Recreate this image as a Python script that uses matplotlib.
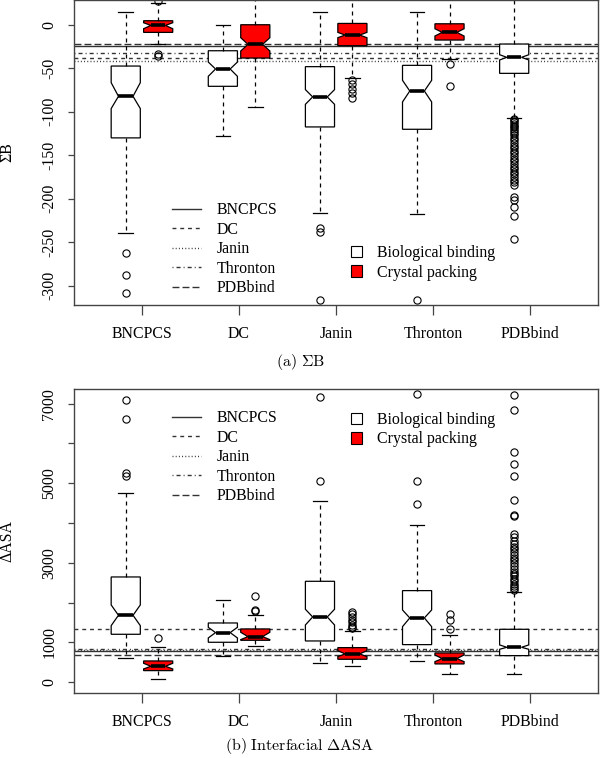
import matplotlib
matplotlib.use("Agg")
import matplotlib.pyplot as plt
from matplotlib.patches import Patch
from matplotlib.lines import Line2D

plt.rcParams['font.family'] = ['Liberation Serif', 'DejaVu Serif']
plt.rcParams['font.size'] = 11.4
plt.rcParams['mathtext.fontset'] = 'cm'

# groupes et lignes de référence
groups = ["BNCPCS", "DC", "Janin", "Thronton", "PDBbind"]

# ---- Panneau (a) : somme des B ----
sb_bio_q1 = [-130.1, -70.8, -117.5, -120.2, -55.9]
sb_bio_med = [-82.3, -50.9, -83.0, -76.2, -37.5]
sb_bio_q3 = [-47.5, -29.9, -48.2, -46.7, -22.2]
sb_bio_lo = [-240.0, -128.2, -217.0, -217.4, -107.5]
sb_bio_hi = [14.9, 0.0, 14.9, 14.9, 45.0]
sb_bio_cilo = [-96.4, -59.3, -91.5, -88.8, -40.5]
sb_bio_cihi = [-66.6, -42.9, -74.6, -63.9, -34.5]
sb_bio_out = [
    [-262.2, -287.8, -308.8],
    [],
    [-233.4, -238.8, -316.1],
    [-316.1],
    [-108, -110, -112, -114, -116, -118, -120, -122, -124, -127, -130,
     -133, -136, -139, -142, -145, -148, -151, -154, -157, -160, -163,
     -166, -169, -172, -175, -178, -181, -184, -198, -201, -209, -220, -246],
]
sb_cry_q1 = [-8.8, -38.3, -24.1, -17.6]
sb_cry_med = [-0.8, -22.6, -11.9, -8.8]
sb_cry_q3 = [4.6, 0.0, 1.5, 1.1]
sb_cry_lo = [-21.8, -94.5, -61.6, -39.0]
sb_cry_hi = [24.9, 45.0, 45.0, 45.0]
sb_cry_cilo = [-4.6, -30.2, -14.9, -13.0]
sb_cry_cihi = [2.3, -14.9, -8.8, -4.6]
sb_cry_out = [[26.8, -33.3, -36.0], [], [-63.9, -68.5, -73.5, -78.8, -83.8], [-45.5, -70.8]]
sb_ref = [-24.9, -37.9, -42.1, -32.1, -21.8]

# ---- Panneau (b) : delta ASA ----
asa_bio_q1 = [1206, 1005, 1038, 946, 670]
asa_bio_med = [1683, 1248, 1641, 1616, 879]
asa_bio_q3 = [2646, 1490, 2537, 2303, 1331]
asa_bio_lo = [611, 653, 477, 544, 218]
asa_bio_hi = [4747, 2077, 4563, 3944, 2269]
asa_bio_cilo = [1423, 1114, 1440, 1398, 829]
asa_bio_cihi = [1943, 1381, 1834, 1817, 938]
asa_bio_out = [
    [7084, 6623, 5267, 5191],
    [],
    [7176, 5066],
    [7240, 5066, 4488],
    [7226, 6841, 5794, 5484, 5175, 4588, 4212, 4178,
     3720, 3640, 3560, 3480, 3410, 3340, 3270, 3200, 3130, 3060, 2990,
     2920, 2850, 2780, 2720, 2660, 2600, 2540, 2480, 2430, 2380, 2330],
]
asa_cry_q1 = [293, 1055, 578, 461]
asa_cry_med = [402, 1147, 712, 594]
asa_cry_q3 = [536, 1340, 871, 737]
asa_cry_lo = [84, 921, 410, 218]
asa_cry_hi = [896, 1683, 1281, 1181]
asa_cry_cilo = [335, 1072, 645, 519]
asa_cry_cihi = [477, 1256, 795, 687]
asa_cry_out = [[1122], [2177, 1817, 1783],
               [1775, 1708, 1641, 1574, 1507, 1440, 1398, 1356],
               [1716, 1566, 1331]]
asa_ref = [787, 1348, 820, 846, 678]

ref_styles = ['-', (0, (2.8, 2.8)), (0, (0.7, 1.6)), (0, (0.7, 2.2, 2.9, 2.2)), (0, (5, 2.2))]
line_col = '#333333'


def make_stats(q1, med, q3, lo, hi, cilo, cihi, out):
    stats = []
    for i in range(len(q1)):
        stats.append(dict(q1=q1[i], med=med[i], q3=q3[i], whislo=lo[i], whishi=hi[i],
                          cilo=cilo[i], cihi=cihi[i], fliers=out[i]))
    return stats


def draw_boxes(ax, stats, positions, color):
    ax.bxp(stats, positions=positions, widths=0.3, shownotches=True, patch_artist=True,
           boxprops=dict(facecolor=color, edgecolor='black', linewidth=0.9),
           whiskerprops=dict(color='black', linewidth=0.9, linestyle=(0, (3.2, 3.2))),
           capprops=dict(color='black', linewidth=0.9),
           medianprops=dict(color='black', linewidth=2.6, solid_capstyle='butt'),
           flierprops=dict(marker='o', markerfacecolor='none', markeredgecolor='black',
                           markersize=5.2, markeredgewidth=0.8))


def panel(ax, bio, cry, ref, ylim, yticks, ylabels, ylab, leg_y):
    pos = range(1, len(groups) + 1)
    draw_boxes(ax, bio, [p - 0.167 for p in pos], 'white')
    draw_boxes(ax, cry, [p + 0.167 for p in range(1, len(cry) + 1)], 'red')
    lines = []
    for g, v, ls in zip(groups, ref, ref_styles):
        ax.axhline(v, color=line_col, linestyle=ls, linewidth=1.0, zorder=1)
        lines.append(Line2D([], [], color=line_col, linestyle=ls, linewidth=1.0, label=g))
    ax.set_xlim(0.3, 5.7)
    ax.set_ylim(*ylim)
    ax.set_xticks(list(pos))
    ax.set_xticklabels(groups)
    ax.set_yticks(yticks)
    ax.set_yticklabels(ylabels, rotation=90, va='center')
    ax.tick_params(axis='x', length=7, width=0.9, pad=8, color='#444444')
    ax.tick_params(axis='y', length=4, width=0.9, pad=8, color='#444444')
    for s in ax.spines.values():
        s.set_color('#444444')
        s.set_linewidth(1.0)
    ax.set_ylabel(ylab)
    ax.yaxis.set_label_coords(-0.112, 0.5)

    leg1 = ax.legend(handles=lines, loc='upper left', bbox_to_anchor=(0.187, leg_y[0]),
                     frameon=False, borderpad=0, borderaxespad=0, handlelength=1.8,
                     handletextpad=1.0, labelspacing=0.22)
    ax.add_artist(leg1)
    fills = [Patch(facecolor='white', edgecolor='black', linewidth=0.8, label='Biological binding'),
             Patch(facecolor='red', edgecolor='black', linewidth=0.8, label='Crystal packing')]
    ax.legend(handles=fills, loc='upper left', bbox_to_anchor=(0.528, leg_y[1]),
              frameon=False, borderpad=0, borderaxespad=0, handlelength=0.72,
              handleheight=0.75, handletextpad=0.9, labelspacing=0.22)


fig = plt.figure(figsize=(6, 7.58), dpi=100)
ax1 = fig.add_axes([0.1233, 0.598, 0.874, 0.4015])
ax2 = fig.add_axes([0.1233, 0.0854, 0.874, 0.4014])

panel(ax1,
      make_stats(sb_bio_q1, sb_bio_med, sb_bio_q3, sb_bio_lo, sb_bio_hi, sb_bio_cilo, sb_bio_cihi, sb_bio_out),
      make_stats(sb_cry_q1, sb_cry_med, sb_cry_q3, sb_cry_lo, sb_cry_hi, sb_cry_cilo, sb_cry_cihi, sb_cry_out),
      sb_ref, (-321.9, 28.0), [-300, -250, -200, -150, -100, -50, 0],
      ['-300', '-250', '-200', '-150', '-100', '-50', '0'], 'ΣB', (0.337, 0.196))

panel(ax2,
      make_stats(asa_bio_q1, asa_bio_med, asa_bio_q3, asa_bio_lo, asa_bio_hi, asa_bio_cilo, asa_bio_cihi, asa_bio_out),
      make_stats(asa_cry_q1, asa_cry_med, asa_cry_q3, asa_cry_lo, asa_cry_hi, asa_cry_cilo, asa_cry_cihi, asa_cry_out),
      asa_ref, (-276, 7368), [0, 1000, 2000, 3000, 4000, 5000, 6000, 7000],
      ['0', '1000', '', '3000', '', '5000', '', '7000'], 'ΔASA', (0.930, 0.925))

fig.text(0.5, 1 - 362 / 758, r'$\mathrm{(a)\ \Sigma B}$', ha='center', va='center', fontsize=11.5)
fig.text(0.5, 1 - 746 / 758, r'$\mathrm{(b)\ Interfacial\ \Delta ASA}$', ha='center', va='center', fontsize=11.5)

fig.savefig('out.png', dpi=100)
